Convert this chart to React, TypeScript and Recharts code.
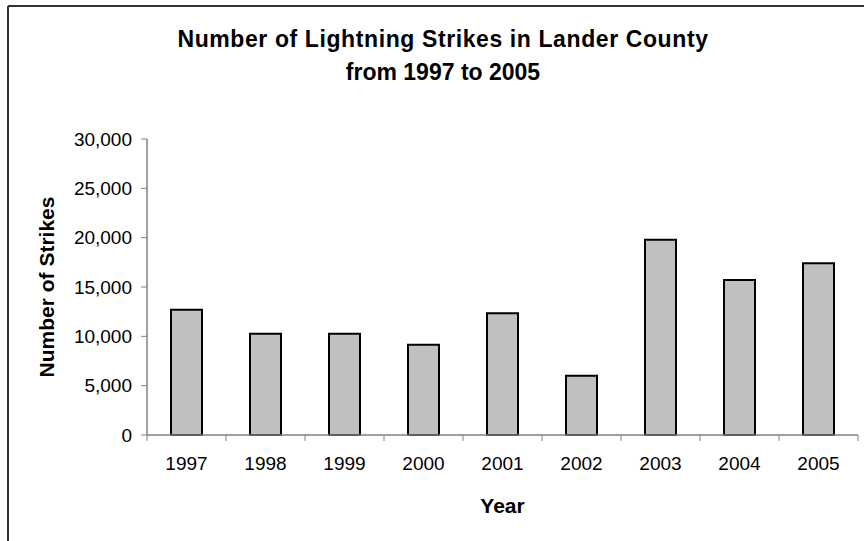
import React from 'react';
import { BarChart, Bar, XAxis, YAxis } from 'recharts';

const years = ['1997', '1998', '1999', '2000', '2001', '2002', '2003', '2004', '2005'];
const strikes = [12700, 10250, 10250, 9150, 12350, 6000, 19800, 15700, 17400];
const yTicks = [0, 5000, 10000, 15000, 20000, 25000, 30000];

// pos: centre of each year's slot on a numeric copy of the category axis
const data = years.map((y, i) => ({ year: y, pos: i + 0.5, strikes: strikes[i] }));
// boundary ticks (integers) and label ticks (halves)
const xTicks: number[] = [];
for (let i = 0; i <= years.length * 2; i++) xTicks.push(i / 2);

const FONT = '"Liberation Sans", Arial, sans-serif';
const AXIS = '#808080';

const fmt = (v: number) => v.toLocaleString('en-US');

const XTick = (props: any) => {
  const { x, y, payload } = props;
  const v = Number(payload.value);
  if (Math.abs(v - Math.round(v)) < 1e-6) {
    return <line x1={x} x2={x} y1={y} y2={y + 6} stroke={AXIS} strokeWidth={1} />;
  }
  const label = years[Math.floor(v)];
  return (
    <text x={x} y={y + 35} textAnchor="middle" fontSize={19} fontFamily={FONT} fill="#000">
      {label}
    </text>
  );
};

export default function App() {
  return (
    <div style={{ position: 'absolute', left: 0, top: 0, width: 864, height: 541, background: '#fff' }}>
      <div style={{ position: 'absolute', left: 0, top: 0 }}>
        <BarChart
          width={864}
          height={541}
          data={data}
          margin={{ top: 139, right: 6, bottom: 0, left: 0 }}
          barSize={31}
        >
          <XAxis xAxisId="cat" dataKey="year" type="category" hide height={0} />
          <XAxis
            xAxisId="t"
            dataKey="pos"
            type="number"
            domain={[0, years.length]}
            ticks={xTicks}
            interval={0}
            allowDataOverflow
            tickLine={false}
            tickSize={0}
            tickMargin={0}
            height={106}
            axisLine={{ stroke: AXIS, strokeWidth: 1.5 }}
            tick={<XTick />}
            label={{ value: 'Year', position: 'insideBottom', offset: 28, fontSize: 21, fontWeight: 'bold', fontFamily: FONT, fill: '#000' }}
          />
          <YAxis
            type="number"
            domain={[0, 30000]}
            ticks={yTicks}
            interval={0}
            width={147}
            tickSize={6}
            tickMargin={9}
            tickFormatter={fmt}
            axisLine={{ stroke: AXIS, strokeWidth: 1.5 }}
            tickLine={{ stroke: AXIS, strokeWidth: 1 }}
            tick={{ fontSize: 19, fontFamily: FONT, fill: '#000' }}
          />
          <Bar
            xAxisId="cat"
            dataKey="strikes"
            fill="#C0C0C0"
            stroke="#000"
            strokeWidth={2}
            isAnimationActive={false}
          />
        </BarChart>
      </div>
      <svg
        width={864}
        height={541}
        style={{ position: 'absolute', left: 0, top: 0, pointerEvents: 'none' }}
      >
        <line x1={8} y1={6} x2={864} y2={6} stroke="#333" strokeWidth={2} />
        <line x1={8} y1={6} x2={8} y2={541} stroke="#333" strokeWidth={2} />
        <text x={443} y={47} textAnchor="middle" fontSize={23} fontWeight="bold" fontFamily={FONT} fill="#000" letterSpacing={0.6}>
          Number of Lightning Strikes in Lander County
        </text>
        <text x={443} y={80} textAnchor="middle" fontSize={23} fontWeight="bold" fontFamily={FONT} fill="#000">
          from 1997 to 2005
        </text>
        <text
          x={0}
          y={0}
          transform="translate(54, 287) rotate(-90)"
          textAnchor="middle"
          fontSize={21}
          fontWeight="bold"
          fontFamily={FONT}
          fill="#000"
        >
          Number of Strikes
        </text>
      </svg>
    </div>
  );
}
